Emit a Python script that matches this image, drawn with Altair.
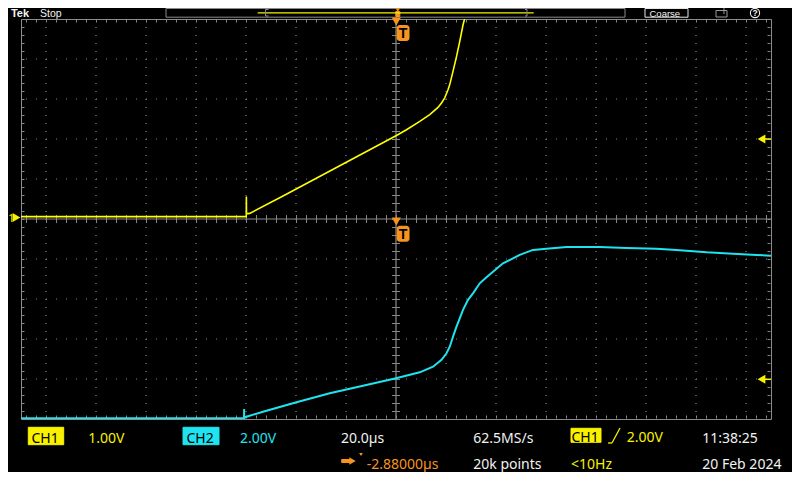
import altair as alt
import pandas as pd

# ---------------- waveform data (time in µs from trigger, amplitude in V) ----------------
ch1_t = [-150.0, -59.9, -59.85, -59.8, -58.5, -45.0, -30.0, -15.0, 0.0, 4.2, 9.5, 13.5,
         16.8, 18.2, 19.5, 20.8, 21.5, 22.8, 24.2, 25.5, 26.8, 27.5, 28.5]
ch1_v = [0.0, 0.0, 0.5, 0.07, 0.08, 0.52, 1.02, 1.52, 2.02, 2.17, 2.38, 2.55,
         2.73, 2.84, 2.97, 3.17, 3.30, 3.63, 4.0, 4.38, 4.79, 4.96, 5.3]

ch2_t = [-150.0, -60.8, -60.75, -60.7, -60.6, -59.8, -53.2, -39.8, -26.5, -13.2, 0.0, 9.5,
         14.8, 18.2, 20.2, 21.5, 22.8, 24.2, 25.5, 26.8, 28.8, 30.8, 33.5, 36.2, 38.8,
         42.8, 46.8, 49.5, 54.8, 60.2, 68.2, 81.5, 92.2, 104.2, 112.2, 124.2, 134.8, 144.2, 150.0]
ch2_v = [0.0, 0.0, 0.47, -0.17, 0.05, 0.08, 0.33, 0.80, 1.25, 1.63, 2.0, 2.30,
         2.58, 2.92, 3.25, 3.58, 4.08, 4.58, 5.0, 5.42, 5.92, 6.25, 6.75, 7.05, 7.33,
         7.75, 8.0, 8.17, 8.42, 8.48, 8.57, 8.57, 8.52, 8.48, 8.42, 8.30, 8.23, 8.17, 8.13]

# screen settings: 20 µs/div horizontally, CH1 1.00 V/div, CH2 2.00 V/div
x_domain = [-150, 150]
ch1_domain = [-5.06, 4.94]
ch2_domain = [-0.035, 19.965]
grid_domain = [-5, 5]
grid_cols = [-140, -120, -100, -80, -60, -40, -20, 20, 40, 60, 80, 100, 120, 140]
grid_rows = [-4, -3, -2, -1, 1, 2, 3, 4]

YEL = "#f8f200"
CYN = "#1fe3ef"
ORG = "#f7941e"
WHT = "#f2f2f2"
GRID = "#868686"
EDGE = "#8c8c8c"

# readout texts (bottom bar)
label_txt = ["1", "CH1", "1.00V", "CH2", "2.00V", "20.0µs", "62.5MS/s",
             "CH1", "2.00V", "11:38:25", "-2.88000µs", "20k points", "<10Hz", "20 Feb 2024"]
label_x = [-12.8, 10.5, 67.3, 165.5, 219, 320, 452.3,
           550.5, 605.7, 681.3, 345.7, 452.3, 550, 681.3]
label_y = [203, 423.7, 423.7, 423.7, 423.7, 423.7, 423.7,
           423.2, 423.2, 423.7, 449.5, 449.5, 449.5, 449.5]
label_col = [YEL, "#000000", YEL, "#000000", CYN, WHT, WHT,
             "#000000", YEL, WHT, ORG, WHT, YEL, WHT]
label_fs = [11, 14, 14, 14, 14, 14, 14, 14, 14, 14, 14, 14, 14, 14]

# status bar texts (top)
top_txt = ["Stop", "Coarse"]
top_x = [19, 628.5]
top_y = [-1.6, -2.4]
top_fs = [10.5, 9.5]

X = alt.Scale(domain=x_domain, nice=False, zero=False)
YG = alt.Scale(domain=grid_domain, nice=False, zero=False)

# ---------------- graticule ----------------
vgrid = alt.Chart(pd.DataFrame({"t": grid_cols, "y0": 5, "y1": -5})).mark_rule(
    color=GRID, strokeDash=[1, 7], strokeWidth=1.2).encode(
    x=alt.X("t:Q", scale=X, axis=None),
    y=alt.Y("y0:Q", scale=YG, axis=None), y2="y1:Q")

hgrid = alt.Chart(pd.DataFrame({"d": grid_rows, "x0": -150, "x1": 150})).mark_rule(
    color=GRID, strokeDash=[1, 9], strokeDashOffset=5, strokeWidth=1.2).encode(
    x=alt.X("x0:Q", scale=X, axis=None), x2="x1:Q",
    y=alt.Y("d:Q", scale=YG, axis=None))

# small ticks along the frame
htick = alt.Chart(pd.DataFrame({"d": [4.95, -4.95], "x0": -150, "x1": 150})).mark_rule(
    color=GRID, strokeDash=[1, 9], strokeDashOffset=5, strokeWidth=3).encode(
    x=alt.X("x0:Q", scale=X, axis=None), x2="x1:Q",
    y=alt.Y("d:Q", scale=YG, axis=None))
vtick = alt.Chart(pd.DataFrame({"t": [-149.2, 149.2], "y0": 5, "y1": -5})).mark_rule(
    color=GRID, strokeDash=[1, 7], strokeWidth=3).encode(
    x=alt.X("t:Q", scale=X, axis=None),
    y=alt.Y("y0:Q", scale=YG, axis=None), y2="y1:Q")

# centre cross with ticks
chtick = alt.Chart(pd.DataFrame({"d": [0], "x0": -150, "x1": 150})).mark_rule(
    color=GRID, strokeDash=[1, 9], strokeDashOffset=5, strokeWidth=8).encode(
    x=alt.X("x0:Q", scale=X, axis=None), x2="x1:Q",
    y=alt.Y("d:Q", scale=YG, axis=None))
cvtick = alt.Chart(pd.DataFrame({"t": [0], "y0": 5, "y1": -5})).mark_rule(
    color=GRID, strokeDash=[1, 7], strokeWidth=8).encode(
    x=alt.X("t:Q", scale=X, axis=None),
    y=alt.Y("y0:Q", scale=YG, axis=None), y2="y1:Q")
chline = alt.Chart(pd.DataFrame({"d": [0], "x0": -150, "x1": 150})).mark_rule(
    color=EDGE, strokeWidth=1.2).encode(
    x=alt.X("x0:Q", scale=X, axis=None), x2="x1:Q",
    y=alt.Y("d:Q", scale=YG, axis=None))
cvline = alt.Chart(pd.DataFrame({"t": [0], "y0": 5, "y1": -5})).mark_rule(
    color=EDGE, strokeWidth=1.2).encode(
    x=alt.X("t:Q", scale=X, axis=None),
    y=alt.Y("y0:Q", scale=YG, axis=None), y2="y1:Q")

# ---------------- traces ----------------
ch1 = alt.Chart(pd.DataFrame({"t": ch1_t, "v": ch1_v})).mark_line(
    color="#ffff00", strokeWidth=1.6, clip=True).encode(
    x=alt.X("t:Q", scale=X, axis=None),
    y=alt.Y("v:Q", scale=alt.Scale(domain=ch1_domain, nice=False, zero=False), axis=None))

ch2 = alt.Chart(pd.DataFrame({"t": ch2_t, "v": ch2_v})).mark_line(
    color=CYN, strokeWidth=2, clip=True).encode(
    x=alt.X("t:Q", scale=X, axis=None),
    y=alt.Y("v:Q", scale=alt.Scale(domain=ch2_domain, nice=False, zero=False), axis=None))

# ---------------- screen furniture (pixel positions) ----------------
def px(field):
    return alt.X(field, scale=None, axis=None)

def py(field):
    return alt.Y(field, scale=None, axis=None)

rects = pd.DataFrame({
    "x0": [145, 624, 7.3, 162, 550, 374.8, 695, 320.7],
    "x1": [604, 667, 42.7, 198, 580, 378.8, 706, 329.5],
    "y0": [-10.5, -10.5, 408.3, 408.3, 409.3, -7.5, -8.5, 440.5],
    "y1": [-1.8, -1.8, 425.7, 425.7, 423.3, -2.5, -2, 443.5],
    "fill": ["#000000", "#000000", YEL, CYN, YEL, ORG, "#000000", ORG],
    "stroke": [EDGE, "#e8e8e8", YEL, CYN, YEL, ORG, "#9a9a9a", ORG],
})
rect_layer = alt.Chart(rects).mark_rect(strokeWidth=1).encode(
    x=px("x0:Q"), x2="x1:Q", y=py("y0:Q"), y2="y1:Q",
    fill=alt.Fill("fill:N", scale=None, legend=None),
    stroke=alt.Stroke("stroke:N", scale=None, legend=None))

badges = pd.DataFrame({"x0": [375.7, 375.7], "x1": [388.5, 388.5], "y0": [6, 206.7], "y1": [22, 222.7]})
badge_layer = alt.Chart(badges).mark_rect(fill=ORG, cornerRadius=3).encode(
    x=px("x0:Q"), x2="x1:Q", y=py("y0:Q"), y2="y1:Q")

rules = pd.DataFrame({
    "x0": [236.7, 244.5, 244.5, 244.5, 506, 504, 504, 587, 591, 744, 744, 703],
    "x1": [512.7, 244.5, 247.5, 247.5, 506, 506, 506, 591, 599, 750, 750, 703],
    "y0": [-6.2, -9.5, -9.5, -3, -9.5, -9.5, -3, 424, 424, 120, 360.3, -5],
    "y1": [-6.2, -3, -9.5, -3, -3, -9.5, -3, 424, 409, 120, 360.3, -11],
    "col": [YEL, EDGE, EDGE, EDGE, EDGE, EDGE, EDGE, YEL, YEL, YEL, YEL, "#9a9a9a"],
    "w": [1.3, 1, 1, 1, 1, 1, 1, 1.3, 1.3, 1.5, 1.5, 1],
})
rule_layer = alt.Chart(rules).mark_rule().encode(
    x=px("x0:Q"), x2="x1:Q", y=py("y0:Q"), y2="y1:Q",
    color=alt.Color("col:N", scale=None, legend=None),
    strokeWidth=alt.StrokeWidth("w:Q", scale=None, legend=None))

points = pd.DataFrame({
    "x": [375.3, 375.3, 376.8, -4.5, 740.5, 740.5, 331.5, 340],
    "y": [2.6, 202.6, -9, 198.5, 120, 360.3, 442, 435.5],
    "shp": ["triangle-down", "triangle-down", "triangle-down", "triangle-right",
            "triangle-left", "triangle-left", "triangle-right", "triangle-down"],
    "sz": [85, 85, 22, 80, 80, 80, 55, 14],
    "col": [ORG, ORG, ORG, YEL, YEL, YEL, ORG, ORG],
})
point_layer = alt.Chart(points).mark_point(filled=True, opacity=1).encode(
    x=px("x:Q"), y=py("y:Q"),
    shape=alt.Shape("shp:N", scale=None, legend=None),
    size=alt.Size("sz:Q", scale=None, legend=None),
    color=alt.Color("col:N", scale=None, legend=None))

help_circle = alt.Chart(pd.DataFrame({"x": [734], "y": [-6]})).mark_point(
    shape="circle", filled=False, size=85, color=WHT, strokeWidth=1.1, opacity=1).encode(
    x=px("x:Q"), y=py("y:Q"))

labels = pd.DataFrame({"txt": label_txt, "x": label_x, "y": label_y, "col": label_col, "fs": label_fs})
text_layer = alt.Chart(labels).mark_text(align="left", baseline="alphabetic", font="Noto Sans").encode(
    x=px("x:Q"), y=py("y:Q"), text="txt:N",
    color=alt.Color("col:N", scale=None, legend=None),
    size=alt.Size("fs:Q", scale=None, legend=None))

top_layer = alt.Chart(pd.DataFrame({"txt": top_txt, "x": top_x, "y": top_y, "fs": top_fs})).mark_text(
    align="left", baseline="alphabetic", font="Liberation Sans", color=WHT).encode(
    x=px("x:Q"), y=py("y:Q"), text="txt:N",
    size=alt.Size("fs:Q", scale=None, legend=None))

bold = pd.DataFrame({"txt": ["Tek", "T", "T", "?"], "x": [-1, 382.1, 382.1, 734],
                     "y": [-1.6, 19, 219.7, -2.6], "fs": [11, 14, 14, 8.5],
                     "col": [WHT, "#000000", "#000000", WHT]})
bold_layer = alt.Chart(bold).mark_text(align="center", baseline="alphabetic",
                                       fontWeight="bold").encode(
    x=px("x:Q"), y=py("y:Q"), text="txt:N",
    color=alt.Color("col:N", scale=None, legend=None),
    size=alt.Size("fs:Q", scale=None, legend=None))

chart = alt.layer(
    vgrid, hgrid, htick, vtick, chtick, cvtick, chline, cvline,
    ch1, ch2,
    rect_layer, badge_layer, rule_layer, point_layer, help_circle,
    text_layer, top_layer, bold_layer,
).resolve_scale(
    x="independent", y="independent"
).properties(
    width=750, height=400,
    padding={"left": 13, "top": 11, "right": 21, "bottom": 53},
    autosize=alt.AutoSizeParams(type="none"),
    background="#000000",
).configure_view(stroke=EDGE, strokeWidth=1).configure_text(font="Liberation Sans")

chart.save("out.html", embed_options={"renderer": "svg", "actions": False})
